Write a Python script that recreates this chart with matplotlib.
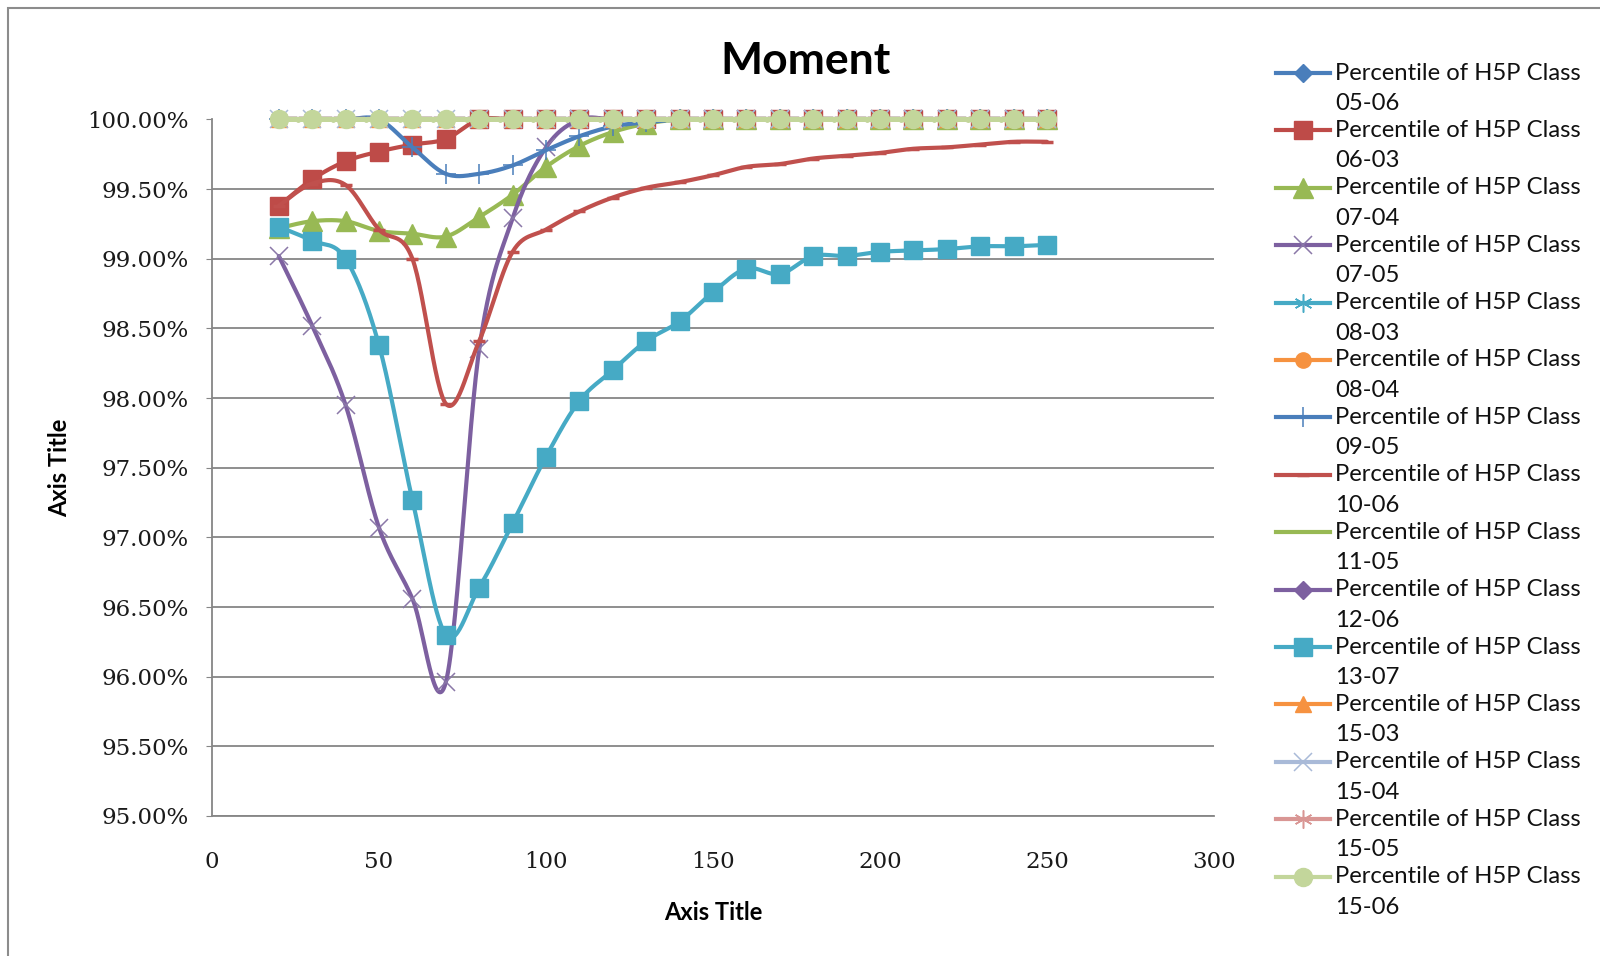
import numpy as np
import matplotlib
matplotlib.use("Agg")
import matplotlib.pyplot as plt
from matplotlib.lines import Line2D
from matplotlib.patches import Rectangle
from matplotlib.ticker import PercentFormatter

# ---------------- data ----------------
x_values = [20, 30, 40, 50, 60, 70, 80, 90, 100, 110, 120, 130,
            140, 150, 160, 170, 180, 190, 200, 210, 220, 230, 240, 250]

full = [100.00, 100.00, 100.00, 100.00, 100.00, 100.00, 100.00, 100.00,
        100.00, 100.00, 100.00, 100.00, 100.00, 100.00, 100.00, 100.00,
        100.00, 100.00, 100.00, 100.00, 100.00, 100.00, 100.00, 100.00]

class_05_06 = full
class_06_03 = [99.38, 99.57, 99.70, 99.77, 99.82, 99.86, 100.00, 100.00,
               100.00, 100.00, 100.00, 100.00, 100.00, 100.00, 100.00, 100.00,
               100.00, 100.00, 100.00, 100.00, 100.00, 100.00, 100.00, 100.00]
class_07_04 = [99.22, 99.27, 99.27, 99.20, 99.18, 99.16, 99.30, 99.46,
               99.66, 99.81, 99.91, 99.97, 100.00, 100.00, 100.00, 100.00,
               100.00, 100.00, 100.00, 100.00, 100.00, 100.00, 100.00, 100.00]
class_07_05 = [99.02, 98.52, 97.95, 97.07, 96.56, 95.96, 98.35, 99.29,
               99.80, 100.00, 100.00, 100.00, 100.00, 100.00, 100.00, 100.00,
               100.00, 100.00, 100.00, 100.00, 100.00, 100.00, 100.00, 100.00]
class_08_03 = full
class_08_04 = full
class_09_05 = [100.00, 100.00, 100.00, 100.00, 99.80, 99.61, 99.61, 99.67,
               99.78, 99.88, 99.95, 99.98, 100.00, 100.00, 100.00, 100.00,
               100.00, 100.00, 100.00, 100.00, 100.00, 100.00, 100.00, 100.00]
class_10_06 = [99.38, 99.54, 99.53, 99.21, 99.00, 97.96, 98.41, 99.05,
               99.21, 99.34, 99.44, 99.51, 99.55, 99.60, 99.66, 99.68,
               99.72, 99.74, 99.76, 99.79, 99.80, 99.82, 99.84, 99.84]
class_11_05 = full
class_12_06 = full
class_13_07 = [99.23, 99.13, 99.00, 98.38, 97.27, 96.30, 96.64, 97.10,
               97.58, 97.98, 98.20, 98.41, 98.55, 98.76, 98.93, 98.89,
               99.02, 99.02, 99.05, 99.06, 99.07, 99.09, 99.09, 99.10]
class_15_03 = full
class_15_04 = full
class_15_05 = full
class_15_06 = full

series_codes = ["05-06", "06-03", "07-04", "07-05", "08-03", "08-04", "09-05",
                "10-06", "11-05", "12-06", "13-07", "15-03", "15-04", "15-05", "15-06"]
series_values = [class_05_06, class_06_03, class_07_04, class_07_05, class_08_03,
                 class_08_04, class_09_05, class_10_06, class_11_05, class_12_06,
                 class_13_07, class_15_03, class_15_04, class_15_05, class_15_06]
label_prefix = "Percentile of H5P Class"
y_ticks = [95.0, 95.5, 96.0, 96.5, 97.0, 97.5, 98.0, 98.5, 99.0, 99.5, 100.0]
x_ticks = [0, 50, 100, 150, 200, 250, 300]

# ---------------- styles ----------------
STAR = (6, 2, 0)
styles = [
    dict(color="#4A7EBB", marker="D", ms=9,  mfc="#4A7EBB", mec="#4A7EBB", mew=1),
    dict(color="#BE4B48", marker="s", ms=13, mfc="#BE4B48", mec="#BE4B48", mew=1),
    dict(color="#98B954", marker="^", ms=14, mfc="#98B954", mec="#98B954", mew=1),
    dict(color="#7D60A0", marker="x", ms=13, mfc="none",    mec="#8A78A8", mew=1.1),
    dict(color="#46AAC5", marker=STAR, ms=13, mfc="none",   mec="#46AAC5", mew=1.1),
    dict(color="#F69240", marker="o", ms=11, mfc="#F69240", mec="#F69240", mew=1),
    dict(color="#4A7EBB", marker="+", ms=15, mfc="none",    mec="#4A7EBB", mew=1.1),
    dict(color="#C0504D", marker="_", ms=9,  mfc="none",    mec="#C0504D", mew=2.5),
    dict(color="#98B954", marker=None, ms=0, mfc="none",    mec="none",    mew=0),
    dict(color="#7D60A0", marker="D", ms=9,  mfc="#7D60A0", mec="#7D60A0", mew=1),
    dict(color="#46AAC5", marker="s", ms=13, mfc="#46AAC5", mec="#46AAC5", mew=1),
    dict(color="#F69240", marker="^", ms=11, mfc="#F69240", mec="#F69240", mew=1),
    dict(color="#A9BAD8", marker="x", ms=13, mfc="none",    mec="#A9BAD8", mew=1.1),
    dict(color="#D99694", marker=STAR, ms=13, mfc="none",   mec="#D99694", mew=1.1),
    dict(color="#C3D69B", marker="o", ms=13, mfc="#C3D69B", mec="#C3D69B", mew=1),
]
LW = 3.0


def smooth(xs, ys, n=30):
    """Excel-style smoothed line (cardinal Bezier through the points)."""
    x = np.asarray(xs, float)
    y = np.asarray(ys, float)
    px = np.concatenate([[x[0]], x, [x[-1]]])
    py = np.concatenate([[y[0]], y, [y[-1]]])
    t = np.linspace(0, 1, n)[:, None]
    outx, outy = [], []
    for i in range(len(x) - 1):
        p0 = np.array([px[i + 1], py[i + 1]])
        p3 = np.array([px[i + 2], py[i + 2]])
        c1 = p0 + (np.array([px[i + 2], py[i + 2]]) - np.array([px[i], py[i]])) / 6.0
        c2 = p3 - (np.array([px[i + 3], py[i + 3]]) - p0) / 6.0
        b = ((1 - t) ** 3) * p0 + 3 * ((1 - t) ** 2) * t * c1 + 3 * (1 - t) * t ** 2 * c2 + t ** 3 * p3
        if i > 0:
            b = b[1:]
        outx.append(b[:, 0])
        outy.append(b[:, 1])
    return np.concatenate(outx), np.concatenate(outy)


# ---------------- figure ----------------
W, H = 1600, 956
fig = plt.figure(figsize=(W / 100, H / 100), dpi=100)
fig.patch.set_facecolor("white")

L, R, T, B = 212, 1214, 119.5, 816
ax = fig.add_axes([L / W, 1 - B / H, (R - L) / W, (B - T) / H])

grid_color = "#868686"
n_series = len(series_values)
for i, (vals, st) in enumerate(zip(series_values, styles)):
    sx, sy = smooth(x_values, vals)
    lw = LW + (0.6 if i == n_series - 1 else 0.0)
    ax.plot(sx, sy, color=st["color"], lw=lw, clip_on=False,
            solid_capstyle="round", solid_joinstyle="round", zorder=3 + 2 * i)
    if st["marker"] is not None:
        ax.plot(x_values, vals, ls="none", marker=st["marker"], ms=st["ms"],
                mfc=st["mfc"], mec=st["mec"], mew=st["mew"], clip_on=False,
                zorder=4 + 2 * i)

ax.set_xlim(0, 300)
ax.set_ylim(95, 100)
ax.set_xticks(x_ticks)
ax.set_yticks(y_ticks)
ax.yaxis.set_major_formatter(PercentFormatter(decimals=2))
ax.grid(axis="y", color=grid_color, lw=1.3, zorder=1)
ax.set_axisbelow(True)
for s in ["top", "right"]:
    ax.spines[s].set_visible(False)
for s in ["left", "bottom"]:
    ax.spines[s].set_color(grid_color)
    ax.spines[s].set_linewidth(1.3)
    ax.spines[s].set_zorder(2)

ax.tick_params(axis="y", length=4, color=grid_color, pad=13, labelcolor="#1a1a1a")
ax.tick_params(axis="x", length=0, pad=25, labelcolor="#1a1a1a")
for lab in ax.get_xticklabels() + ax.get_yticklabels():
    lab.set_fontfamily("DejaVu Serif")
    lab.set_fontsize(16.5)

sans = ["Lato", "DejaVu Sans"]
ax.set_xlabel("Axis Title", fontfamily=sans, fontweight="bold", fontsize=17)
ax.xaxis.set_label_coords(0.5, (B - 913) / (B - T))
ax.xaxis.label.set_va("center")
ax.set_ylabel("Axis Title", fontfamily=sans, fontweight="bold", fontsize=17)
ax.yaxis.set_label_coords((60 - L) / (R - L), 0.5)
ax.yaxis.label.set_va("center")

fig.text(806 / W, 1 - 61 / H, "Moment", ha="center", va="center",
         fontfamily=sans, fontweight="bold", fontsize=32)

# ---------------- legend (Excel style, two-line labels) ----------------
leg_y0, leg_dy, line_dy = 73.0, 57.4, 30.5
hx0, hx1, tx = 1276, 1330, 1335
for i, (code, st) in enumerate(zip(series_codes, styles)):
    yy = leg_y0 + i * leg_dy
    fig.add_artist(Line2D([hx0 / W, hx1 / W], [1 - yy / H, 1 - yy / H],
                          color=st["color"], lw=LW, transform=fig.transFigure))
    if st["marker"] is not None:
        fig.add_artist(Line2D([(hx0 + hx1) / 2 / W], [1 - yy / H], ls="none",
                              marker=st["marker"], ms=st["ms"], mfc=st["mfc"],
                              mec=st["mec"], mew=st["mew"], transform=fig.transFigure))
    fig.text(tx / W, 1 - yy / H, label_prefix, ha="left", va="center",
             fontfamily=sans, fontsize=17.2, color="#111111")
    fig.text(tx / W, 1 - (yy + line_dy) / H, code, ha="left", va="center",
             fontfamily=sans, fontsize=17.2, color="#111111")

# chart area border
fig.add_artist(Rectangle((8 / W, -0.1), 1.2, 1 - 8 / H + 0.1, fill=False,
                         ec="#8c8c8c", lw=1.5, transform=fig.transFigure))

fig.savefig("out.png", dpi=100, facecolor="white")
